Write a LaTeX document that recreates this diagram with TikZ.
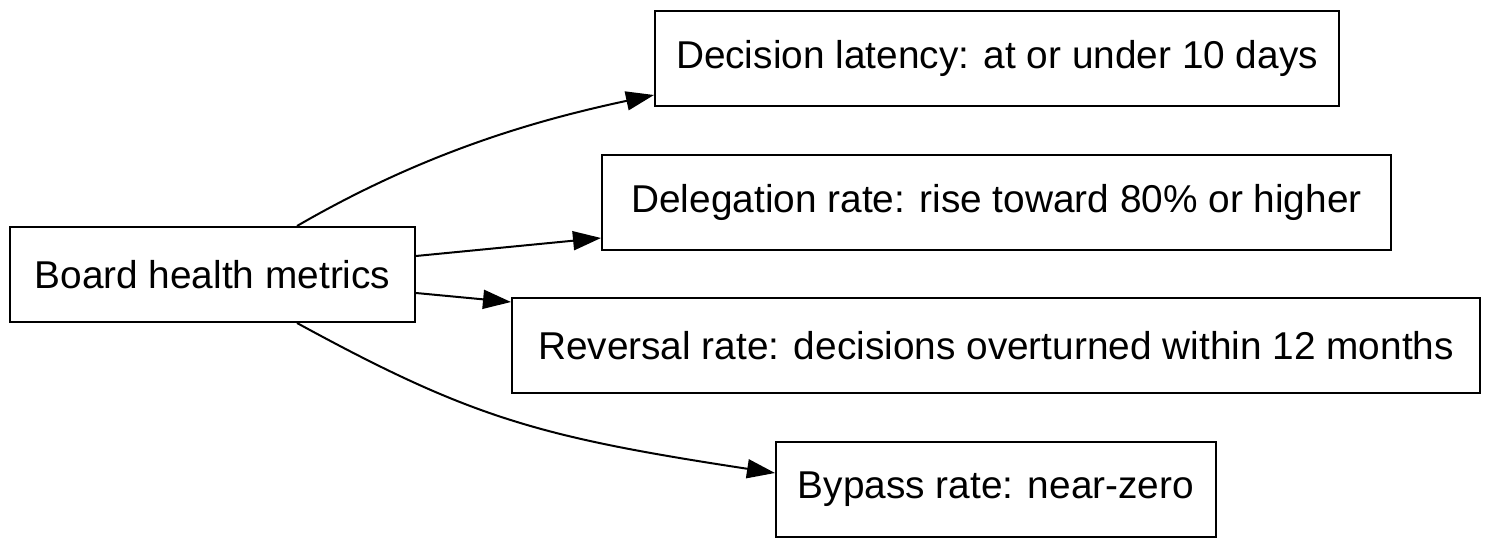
\documentclass[tikz,border=0pt]{standalone}
\usepackage{fontspec}
\setmainfont{Liberation Sans}
\usetikzlibrary{arrows.meta}
\tikzset{
  box/.style={draw=black, line width=1pt, rectangle, inner sep=0pt,
    minimum height=47.5pt, font=\fontsize{19.4pt}{23pt}\selectfont, text=black},
  conn/.style={draw=black, line width=1pt, -{Triangle[length=14pt,width=9.5pt]}}
}
\begin{document}
\begin{tikzpicture}[x=0.5pt,y=-0.5pt]
\useasboundingbox (0,0) rectangle (1493,549);
\node[box, minimum width=202.5pt] (board) at (212.5,274.5) {Board health metrics};
\node[box, minimum width=342pt] (dec) at (997,58.5) {Decision latency: at or under 10 days};
\node[box, minimum width=394.5pt] (del) at (996.5,202.5) {Delegation rate: rise toward 80\% or higher};
\node[box, minimum width=484pt] (rev) at (996,345.5) {Reversal rate: decisions overturned within 12 months};
\node[box, minimum width=220pt] (byp) at (996,489.5) {Bypass rate: near-zero};
\draw[conn] ([xshift=42.25pt]board.north) .. controls (425.5,151.5) and (537,120) .. ([yshift=-18.25pt]dec.west);
\draw[conn] ([yshift=9.25pt]board.east) -- ([yshift=-17.75pt]del.west);
\draw[conn] ([yshift=-9.25pt]board.east) -- ([yshift=21.75pt]rev.west);
\draw[conn] ([xshift=42.25pt]board.south) .. controls (471,418) and (539,437) .. ([yshift=8.25pt]byp.west);
\end{tikzpicture}
\end{document}
